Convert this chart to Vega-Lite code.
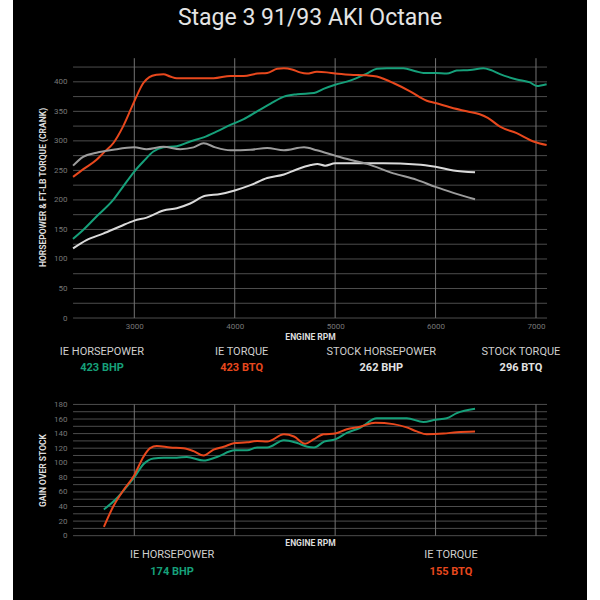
{
  "$schema": "https://vega.github.io/schema/vega-lite/v6.json",
  "background": "white",
  "padding": {"left": 13, "right": 13, "top": 0, "bottom": 0},
  "spacing": 0,
  "resolve": {"scale": {"color": "independent"}},
  "config": {
    "font": "Roboto",
    "view": {"fill": "black", "stroke": null},
    "axis": {
      "grid": false, "domain": false, "ticks": false,
      "labelColor": "#777777", "labelFontSize": 8, "labelFont": "Roboto",
      "titleColor": "#dddddd", "titleFontSize": 8.5, "titleFontWeight": "bold", "titleFont": "Roboto"
    }
  },
  "datasets": {
    "dyno": [
      {"rpm": 2390, "val": 134, "series": "IE Horsepower"},
      {"rpm": 2490, "val": 149, "series": "IE Horsepower"},
      {"rpm": 2624, "val": 172, "series": "IE Horsepower"},
      {"rpm": 2790, "val": 200, "series": "IE Horsepower"},
      {"rpm": 2890, "val": 223, "series": "IE Horsepower"},
      {"rpm": 3000, "val": 248, "series": "IE Horsepower"},
      {"rpm": 3090, "val": 265, "series": "IE Horsepower"},
      {"rpm": 3190, "val": 282, "series": "IE Horsepower"},
      {"rpm": 3290, "val": 289, "series": "IE Horsepower"},
      {"rpm": 3423, "val": 291, "series": "IE Horsepower"},
      {"rpm": 3557, "val": 299, "series": "IE Horsepower"},
      {"rpm": 3690, "val": 306, "series": "IE Horsepower"},
      {"rpm": 3823, "val": 316, "series": "IE Horsepower"},
      {"rpm": 3957, "val": 327, "series": "IE Horsepower"},
      {"rpm": 4090, "val": 337, "series": "IE Horsepower"},
      {"rpm": 4223, "val": 350, "series": "IE Horsepower"},
      {"rpm": 4357, "val": 363, "series": "IE Horsepower"},
      {"rpm": 4490, "val": 375, "series": "IE Horsepower"},
      {"rpm": 4623, "val": 379, "series": "IE Horsepower"},
      {"rpm": 4790, "val": 381, "series": "IE Horsepower"},
      {"rpm": 4884, "val": 388, "series": "IE Horsepower"},
      {"rpm": 5000, "val": 395, "series": "IE Horsepower"},
      {"rpm": 5149, "val": 402, "series": "IE Horsepower"},
      {"rpm": 5315, "val": 414, "series": "IE Horsepower"},
      {"rpm": 5415, "val": 422, "series": "IE Horsepower"},
      {"rpm": 5514, "val": 423, "series": "IE Horsepower"},
      {"rpm": 5680, "val": 423, "series": "IE Horsepower"},
      {"rpm": 5800, "val": 418, "series": "IE Horsepower"},
      {"rpm": 5879, "val": 415, "series": "IE Horsepower"},
      {"rpm": 6000, "val": 415, "series": "IE Horsepower"},
      {"rpm": 6111, "val": 414, "series": "IE Horsepower"},
      {"rpm": 6211, "val": 419, "series": "IE Horsepower"},
      {"rpm": 6343, "val": 420, "series": "IE Horsepower"},
      {"rpm": 6476, "val": 423, "series": "IE Horsepower"},
      {"rpm": 6550, "val": 420, "series": "IE Horsepower"},
      {"rpm": 6642, "val": 413, "series": "IE Horsepower"},
      {"rpm": 6808, "val": 404, "series": "IE Horsepower"},
      {"rpm": 6940, "val": 399, "series": "IE Horsepower"},
      {"rpm": 7007, "val": 393, "series": "IE Horsepower"},
      {"rpm": 7106, "val": 396, "series": "IE Horsepower"},

      {"rpm": 2390, "val": 239, "series": "IE Torque"},
      {"rpm": 2500, "val": 253, "series": "IE Torque"},
      {"rpm": 2624, "val": 268, "series": "IE Torque"},
      {"rpm": 2700, "val": 281, "series": "IE Torque"},
      {"rpm": 2790, "val": 296, "series": "IE Torque"},
      {"rpm": 2890, "val": 325, "series": "IE Torque"},
      {"rpm": 3000, "val": 367, "series": "IE Torque"},
      {"rpm": 3090, "val": 398, "series": "IE Torque"},
      {"rpm": 3150, "val": 408, "series": "IE Torque"},
      {"rpm": 3223, "val": 412, "series": "IE Torque"},
      {"rpm": 3290, "val": 413, "series": "IE Torque"},
      {"rpm": 3357, "val": 409, "series": "IE Torque"},
      {"rpm": 3423, "val": 406, "series": "IE Torque"},
      {"rpm": 3623, "val": 406, "series": "IE Torque"},
      {"rpm": 3790, "val": 406, "series": "IE Torque"},
      {"rpm": 3957, "val": 410, "series": "IE Torque"},
      {"rpm": 4090, "val": 410, "series": "IE Torque"},
      {"rpm": 4223, "val": 414, "series": "IE Torque"},
      {"rpm": 4323, "val": 415, "series": "IE Torque"},
      {"rpm": 4423, "val": 422, "series": "IE Torque"},
      {"rpm": 4490, "val": 423, "series": "IE Torque"},
      {"rpm": 4570, "val": 421, "series": "IE Torque"},
      {"rpm": 4650, "val": 416, "series": "IE Torque"},
      {"rpm": 4718, "val": 414, "series": "IE Torque"},
      {"rpm": 4818, "val": 417, "series": "IE Torque"},
      {"rpm": 4917, "val": 416, "series": "IE Torque"},
      {"rpm": 5000, "val": 414, "series": "IE Torque"},
      {"rpm": 5149, "val": 412, "series": "IE Torque"},
      {"rpm": 5315, "val": 411, "series": "IE Torque"},
      {"rpm": 5415, "val": 409, "series": "IE Torque"},
      {"rpm": 5500, "val": 404, "series": "IE Torque"},
      {"rpm": 5580, "val": 398, "series": "IE Torque"},
      {"rpm": 5746, "val": 384, "series": "IE Torque"},
      {"rpm": 5912, "val": 368, "series": "IE Torque"},
      {"rpm": 6000, "val": 364, "series": "IE Torque"},
      {"rpm": 6144, "val": 357, "series": "IE Torque"},
      {"rpm": 6310, "val": 350, "series": "IE Torque"},
      {"rpm": 6440, "val": 345, "series": "IE Torque"},
      {"rpm": 6520, "val": 339, "series": "IE Torque"},
      {"rpm": 6642, "val": 324, "series": "IE Torque"},
      {"rpm": 6808, "val": 313, "series": "IE Torque"},
      {"rpm": 6974, "val": 299, "series": "IE Torque"},
      {"rpm": 7106, "val": 293, "series": "IE Torque"},

      {"rpm": 2390, "val": 118, "series": "Stock Horsepower"},
      {"rpm": 2524, "val": 132, "series": "Stock Horsepower"},
      {"rpm": 2690, "val": 143, "series": "Stock Horsepower"},
      {"rpm": 2857, "val": 155, "series": "Stock Horsepower"},
      {"rpm": 3000, "val": 165, "series": "Stock Horsepower"},
      {"rpm": 3123, "val": 170, "series": "Stock Horsepower"},
      {"rpm": 3290, "val": 182, "series": "Stock Horsepower"},
      {"rpm": 3423, "val": 186, "series": "Stock Horsepower"},
      {"rpm": 3557, "val": 194, "series": "Stock Horsepower"},
      {"rpm": 3707, "val": 207, "series": "Stock Horsepower"},
      {"rpm": 3857, "val": 210, "series": "Stock Horsepower"},
      {"rpm": 4000, "val": 216, "series": "Stock Horsepower"},
      {"rpm": 4157, "val": 225, "series": "Stock Horsepower"},
      {"rpm": 4323, "val": 237, "series": "Stock Horsepower"},
      {"rpm": 4490, "val": 243, "series": "Stock Horsepower"},
      {"rpm": 4623, "val": 252, "series": "Stock Horsepower"},
      {"rpm": 4757, "val": 259, "series": "Stock Horsepower"},
      {"rpm": 4823, "val": 261, "series": "Stock Horsepower"},
      {"rpm": 4900, "val": 258, "series": "Stock Horsepower"},
      {"rpm": 5000, "val": 262, "series": "Stock Horsepower"},
      {"rpm": 5182, "val": 262, "series": "Stock Horsepower"},
      {"rpm": 5481, "val": 262, "series": "Stock Horsepower"},
      {"rpm": 5813, "val": 260, "series": "Stock Horsepower"},
      {"rpm": 6000, "val": 256, "series": "Stock Horsepower"},
      {"rpm": 6177, "val": 250, "series": "Stock Horsepower"},
      {"rpm": 6393, "val": 247, "series": "Stock Horsepower"},

      {"rpm": 2390, "val": 258, "series": "Stock Torque"},
      {"rpm": 2490, "val": 273, "series": "Stock Torque"},
      {"rpm": 2624, "val": 280, "series": "Stock Torque"},
      {"rpm": 2790, "val": 285, "series": "Stock Torque"},
      {"rpm": 3000, "val": 289, "series": "Stock Torque"},
      {"rpm": 3123, "val": 286, "series": "Stock Torque"},
      {"rpm": 3290, "val": 290, "series": "Stock Torque"},
      {"rpm": 3457, "val": 286, "series": "Stock Torque"},
      {"rpm": 3590, "val": 289, "series": "Stock Torque"},
      {"rpm": 3690, "val": 296, "series": "Stock Torque"},
      {"rpm": 3807, "val": 289, "series": "Stock Torque"},
      {"rpm": 3957, "val": 284, "series": "Stock Torque"},
      {"rpm": 4157, "val": 285, "series": "Stock Torque"},
      {"rpm": 4323, "val": 288, "series": "Stock Torque"},
      {"rpm": 4490, "val": 284, "series": "Stock Torque"},
      {"rpm": 4690, "val": 289, "series": "Stock Torque"},
      {"rpm": 4818, "val": 284, "series": "Stock Torque"},
      {"rpm": 5000, "val": 275, "series": "Stock Torque"},
      {"rpm": 5149, "val": 268, "series": "Stock Torque"},
      {"rpm": 5315, "val": 261, "series": "Stock Torque"},
      {"rpm": 5580, "val": 245, "series": "Stock Torque"},
      {"rpm": 5813, "val": 234, "series": "Stock Torque"},
      {"rpm": 6000, "val": 222, "series": "Stock Torque"},
      {"rpm": 6177, "val": 212, "series": "Stock Torque"},
      {"rpm": 6393, "val": 201, "series": "Stock Torque"}
    ],
    "gain": [
      {"rpm": 2697, "val": 36, "series": "IE Horsepower"},
      {"rpm": 2823, "val": 51, "series": "IE Horsepower"},
      {"rpm": 2923, "val": 67, "series": "IE Horsepower"},
      {"rpm": 3000, "val": 80, "series": "IE Horsepower"},
      {"rpm": 3090, "val": 98, "series": "IE Horsepower"},
      {"rpm": 3190, "val": 106, "series": "IE Horsepower"},
      {"rpm": 3290, "val": 107, "series": "IE Horsepower"},
      {"rpm": 3423, "val": 107, "series": "IE Horsepower"},
      {"rpm": 3523, "val": 108, "series": "IE Horsepower"},
      {"rpm": 3690, "val": 103, "series": "IE Horsepower"},
      {"rpm": 3823, "val": 108, "series": "IE Horsepower"},
      {"rpm": 4000, "val": 117, "series": "IE Horsepower"},
      {"rpm": 4123, "val": 117, "series": "IE Horsepower"},
      {"rpm": 4223, "val": 121, "series": "IE Horsepower"},
      {"rpm": 4323, "val": 121, "series": "IE Horsepower"},
      {"rpm": 4490, "val": 131, "series": "IE Horsepower"},
      {"rpm": 4623, "val": 127, "series": "IE Horsepower"},
      {"rpm": 4723, "val": 122, "series": "IE Horsepower"},
      {"rpm": 4790, "val": 121, "series": "IE Horsepower"},
      {"rpm": 4890, "val": 129, "series": "IE Horsepower"},
      {"rpm": 5000, "val": 132, "series": "IE Horsepower"},
      {"rpm": 5116, "val": 141, "series": "IE Horsepower"},
      {"rpm": 5249, "val": 148, "series": "IE Horsepower"},
      {"rpm": 5415, "val": 161, "series": "IE Horsepower"},
      {"rpm": 5580, "val": 161, "series": "IE Horsepower"},
      {"rpm": 5713, "val": 161, "series": "IE Horsepower"},
      {"rpm": 5879, "val": 156, "series": "IE Horsepower"},
      {"rpm": 6000, "val": 159, "series": "IE Horsepower"},
      {"rpm": 6111, "val": 161, "series": "IE Horsepower"},
      {"rpm": 6211, "val": 168, "series": "IE Horsepower"},
      {"rpm": 6393, "val": 174, "series": "IE Horsepower"},

      {"rpm": 2697, "val": 12, "series": "IE Torque"},
      {"rpm": 2790, "val": 40, "series": "IE Torque"},
      {"rpm": 2890, "val": 62, "series": "IE Torque"},
      {"rpm": 3000, "val": 83, "series": "IE Torque"},
      {"rpm": 3090, "val": 108, "series": "IE Torque"},
      {"rpm": 3157, "val": 120, "series": "IE Torque"},
      {"rpm": 3223, "val": 123, "series": "IE Torque"},
      {"rpm": 3357, "val": 121, "series": "IE Torque"},
      {"rpm": 3490, "val": 120, "series": "IE Torque"},
      {"rpm": 3590, "val": 116, "series": "IE Torque"},
      {"rpm": 3690, "val": 110, "series": "IE Torque"},
      {"rpm": 3790, "val": 118, "series": "IE Torque"},
      {"rpm": 3890, "val": 122, "series": "IE Torque"},
      {"rpm": 4000, "val": 127, "series": "IE Torque"},
      {"rpm": 4123, "val": 128, "series": "IE Torque"},
      {"rpm": 4223, "val": 130, "series": "IE Torque"},
      {"rpm": 4323, "val": 129, "series": "IE Torque"},
      {"rpm": 4490, "val": 139, "series": "IE Torque"},
      {"rpm": 4590, "val": 136, "series": "IE Torque"},
      {"rpm": 4701, "val": 126, "series": "IE Torque"},
      {"rpm": 4784, "val": 132, "series": "IE Torque"},
      {"rpm": 4884, "val": 139, "series": "IE Torque"},
      {"rpm": 5000, "val": 140, "series": "IE Torque"},
      {"rpm": 5116, "val": 146, "series": "IE Torque"},
      {"rpm": 5249, "val": 149.5, "series": "IE Torque"},
      {"rpm": 5398, "val": 155, "series": "IE Torque"},
      {"rpm": 5580, "val": 153, "series": "IE Torque"},
      {"rpm": 5713, "val": 148.5, "series": "IE Torque"},
      {"rpm": 5813, "val": 143, "series": "IE Torque"},
      {"rpm": 5912, "val": 139, "series": "IE Torque"},
      {"rpm": 6078, "val": 140, "series": "IE Torque"},
      {"rpm": 6211, "val": 142, "series": "IE Torque"},
      {"rpm": 6393, "val": 143, "series": "IE Torque"}
    ],
    "rpmLines": [{"rpm": 3000}, {"rpm": 4000}, {"rpm": 5000}, {"rpm": 6000}, {"rpm": 7000}],
    "dynoLevels": [
      {"val": 0}, {"val": 25}, {"val": 50}, {"val": 75}, {"val": 100}, {"val": 125}, {"val": 150}, {"val": 175}, {"val": 200},
      {"val": 225}, {"val": 250}, {"val": 275}, {"val": 300}, {"val": 325}, {"val": 350}, {"val": 375}, {"val": 400}, {"val": 425}
    ],
    "gainLevels": [
      {"val": 0}, {"val": 10}, {"val": 20}, {"val": 30}, {"val": 40}, {"val": 50}, {"val": 60}, {"val": 70}, {"val": 80}, {"val": 90},
      {"val": 100}, {"val": 110}, {"val": 120}, {"val": 130}, {"val": 140}, {"val": 150}, {"val": 160}, {"val": 170}, {"val": 180}
    ],
    "peaks": [
      {"series": "IE HORSEPOWER", "figure": "423 BHP"},
      {"series": "IE TORQUE", "figure": "423 BTQ"},
      {"series": "STOCK HORSEPOWER", "figure": "262 BHP"},
      {"series": "STOCK TORQUE", "figure": "296 BTQ"}
    ],
    "peakGains": [
      {"series": "IE HORSEPOWER", "figure": "174 BHP"},
      {"series": "IE TORQUE", "figure": "155 BTQ"}
    ]
  },
  "vconcat": [
    {
      "width": 574,
      "height": 36,
      "view": {"fill": "black", "stroke": null},
      "data": {"values": [{"title": "Stage 3 91/93 AKI Octane"}]},
      "mark": {"type": "text", "fontSize": 23, "color": "#e4e4e4", "dx": 10, "baseline": "middle", "align": "center"},
      "encoding": {
        "y": {"field": "title", "type": "nominal", "axis": null, "scale": {"type": "point", "padding": 0.5}},
        "text": {"field": "title"}
      }
    },
    {
      "width": 574,
      "height": 308,
      "layer": [
        {
          "data": {"name": "dynoLevels"},
          "mark": {"type": "rule", "color": "#4d4d4d", "strokeWidth": 1},
          "encoding": {
            "x": {"datum": 2390, "type": "quantitative",
                  "scale": {"domain": [1792, 7508], "nice": false, "zero": false},
                  "axis": {"values": [3000, 4000, 5000, 6000, 7000], "format": "d", "offset": -26, "labelPadding": 4,
                           "title": "ENGINE RPM", "titleX": 297, "titlePadding": 2}},
            "x2": {"datum": 7110},
            "y": {"field": "val", "type": "quantitative",
                  "scale": {"domain": [-44, 477.6], "nice": false, "zero": false},
                  "axis": {"values": [0, 50, 100, 150, 200, 250, 300, 350, 400], "offset": -60, "labelPadding": 6,
                           "title": "HORSEPOWER & FT-LB TORQUE (CRANK)", "titleY": 151, "titlePadding": 6}}
          }
        },
        {
          "data": {"name": "rpmLines"},
          "mark": {"type": "rule", "color": "#747474", "strokeWidth": 1},
          "encoding": {
            "x": {"field": "rpm", "type": "quantitative",
                  "scale": {"domain": [1792, 7508], "nice": false, "zero": false},
                  "axis": {"values": [3000, 4000, 5000, 6000, 7000], "format": "d", "offset": -26, "labelPadding": 4,
                           "title": "ENGINE RPM", "titleX": 297, "titlePadding": 2}},
            "y": {"datum": 0, "type": "quantitative",
                  "scale": {"domain": [-44, 477.6], "nice": false, "zero": false},
                  "axis": {"values": [0, 50, 100, 150, 200, 250, 300, 350, 400], "offset": -60, "labelPadding": 6,
                           "title": "HORSEPOWER & FT-LB TORQUE (CRANK)", "titleY": 151, "titlePadding": 6}},
            "y2": {"datum": 440}
          }
        },
        {
          "data": {"name": "dyno"},
          "mark": {"type": "line", "interpolate": "monotone", "strokeWidth": 2},
          "encoding": {
            "x": {"field": "rpm", "type": "quantitative",
                  "scale": {"domain": [1792, 7508], "nice": false, "zero": false},
                  "axis": {"values": [3000, 4000, 5000, 6000, 7000], "format": "d", "offset": -26, "labelPadding": 4,
                           "title": "ENGINE RPM", "titleX": 297, "titlePadding": 2}},
            "y": {"field": "val", "type": "quantitative",
                  "scale": {"domain": [-44, 477.6], "nice": false, "zero": false},
                  "axis": {"values": [0, 50, 100, 150, 200, 250, 300, 350, 400], "offset": -60, "labelPadding": 6,
                           "title": "HORSEPOWER & FT-LB TORQUE (CRANK)", "titleY": 151, "titlePadding": 6}},
            "color": {"field": "series", "type": "nominal", "legend": null,
                      "scale": {"domain": ["IE Horsepower", "IE Torque", "Stock Horsepower", "Stock Torque"],
                                "range": ["#16a07a", "#e8481d", "#dadada", "#9c9c9c"]}}
          }
        }
      ]
    },
    {
      "width": 574,
      "height": 32,
      "data": {"name": "peaks"},
      "layer": [
        {
          "mark": {"type": "text", "fontSize": 11, "color": "#cfcfcf", "baseline": "middle", "align": "center"},
          "encoding": {
            "x": {"field": "series", "type": "nominal", "axis": null, "sort": null,
                  "scale": {"type": "point", "padding": 0.555, "align": 0.574}},
            "y": {"datum": "name", "type": "nominal", "axis": null,
                  "scale": {"type": "point", "domain": ["name", "figure"], "padding": 0.5}},
            "text": {"field": "series"}
          }
        },
        {
          "mark": {"type": "text", "fontSize": 11, "fontWeight": "bold", "baseline": "middle", "align": "center"},
          "encoding": {
            "x": {"field": "series", "type": "nominal", "axis": null, "sort": null,
                  "scale": {"type": "point", "padding": 0.555, "align": 0.574}},
            "y": {"datum": "figure", "type": "nominal", "axis": null,
                  "scale": {"type": "point", "domain": ["name", "figure"], "padding": 0.5}},
            "text": {"field": "figure"},
            "color": {"field": "series", "type": "nominal", "legend": null,
                      "scale": {"domain": ["IE HORSEPOWER", "IE TORQUE", "STOCK HORSEPOWER", "STOCK TORQUE"],
                                "range": ["#16a07a", "#e8481d", "#e2e2e2", "#e2e2e2"]}}
          }
        }
      ]
    },
    {
      "width": 574,
      "height": 172,
      "layer": [
        {
          "data": {"name": "gainLevels"},
          "mark": {"type": "rule", "color": "#4d4d4d", "strokeWidth": 1},
          "encoding": {
            "x": {"datum": 2390, "type": "quantitative",
                  "scale": {"domain": [1792, 7508], "nice": false, "zero": false},
                  "axis": {"values": [3000, 4000, 5000, 6000, 7000], "labels": false, "offset": -12,
                           "title": "ENGINE RPM", "titleX": 297, "titlePadding": 2}},
            "x2": {"datum": 7110},
            "y": {"field": "val", "type": "quantitative",
                  "scale": {"domain": [-16.9, 219], "nice": false, "zero": false},
                  "axis": {"values": [0, 20, 40, 60, 80, 100, 120, 140, 160, 180], "offset": -60, "labelPadding": 6,
                           "title": "GAIN OVER STOCK", "titleY": 94, "titlePadding": 6}}
          }
        },
        {
          "data": {"name": "rpmLines"},
          "mark": {"type": "rule", "color": "#747474", "strokeWidth": 1},
          "encoding": {
            "x": {"field": "rpm", "type": "quantitative",
                  "scale": {"domain": [1792, 7508], "nice": false, "zero": false},
                  "axis": {"values": [3000, 4000, 5000, 6000, 7000], "labels": false, "offset": -12,
                           "title": "ENGINE RPM", "titleX": 297, "titlePadding": 2}},
            "y": {"datum": 0, "type": "quantitative",
                  "scale": {"domain": [-16.9, 219], "nice": false, "zero": false},
                  "axis": {"values": [0, 20, 40, 60, 80, 100, 120, 140, 160, 180], "offset": -60, "labelPadding": 6,
                           "title": "GAIN OVER STOCK", "titleY": 94, "titlePadding": 6}},
            "y2": {"datum": 180}
          }
        },
        {
          "data": {"name": "gain"},
          "mark": {"type": "line", "interpolate": "monotone", "strokeWidth": 2},
          "encoding": {
            "x": {"field": "rpm", "type": "quantitative",
                  "scale": {"domain": [1792, 7508], "nice": false, "zero": false},
                  "axis": {"values": [3000, 4000, 5000, 6000, 7000], "labels": false, "offset": -12,
                           "title": "ENGINE RPM", "titleX": 297, "titlePadding": 2}},
            "y": {"field": "val", "type": "quantitative",
                  "scale": {"domain": [-16.9, 219], "nice": false, "zero": false},
                  "axis": {"values": [0, 20, 40, 60, 80, 100, 120, 140, 160, 180], "offset": -60, "labelPadding": 6,
                           "title": "GAIN OVER STOCK", "titleY": 94, "titlePadding": 6}},
            "color": {"field": "series", "type": "nominal", "legend": null,
                      "scale": {"domain": ["IE Horsepower", "IE Torque"], "range": ["#16a07a", "#e8481d"]}}
          }
        }
      ]
    },
    {
      "width": 574,
      "height": 52,
      "data": {"name": "peakGains"},
      "layer": [
        {
          "mark": {"type": "text", "fontSize": 11, "color": "#cfcfcf", "baseline": "middle", "align": "center"},
          "encoding": {
            "x": {"field": "series", "type": "nominal", "axis": null, "sort": null,
                  "scale": {"type": "point", "padding": 0.529, "align": 0.539}},
            "y": {"datum": "name", "type": "nominal", "axis": null,
                  "scale": {"type": "point", "domain": ["name", "figure"], "padding": 1.03, "align": 0.2}},
            "text": {"field": "series"}
          }
        },
        {
          "mark": {"type": "text", "fontSize": 11, "fontWeight": "bold", "baseline": "middle", "align": "center"},
          "encoding": {
            "x": {"field": "series", "type": "nominal", "axis": null, "sort": null,
                  "scale": {"type": "point", "padding": 0.529, "align": 0.539}},
            "y": {"datum": "figure", "type": "nominal", "axis": null,
                  "scale": {"type": "point", "domain": ["name", "figure"], "padding": 1.03, "align": 0.2}},
            "text": {"field": "figure"},
            "color": {"field": "series", "type": "nominal", "legend": null,
                      "scale": {"domain": ["IE HORSEPOWER", "IE TORQUE"], "range": ["#16a07a", "#e8481d"]}}
          }
        }
      ]
    }
  ]
}
